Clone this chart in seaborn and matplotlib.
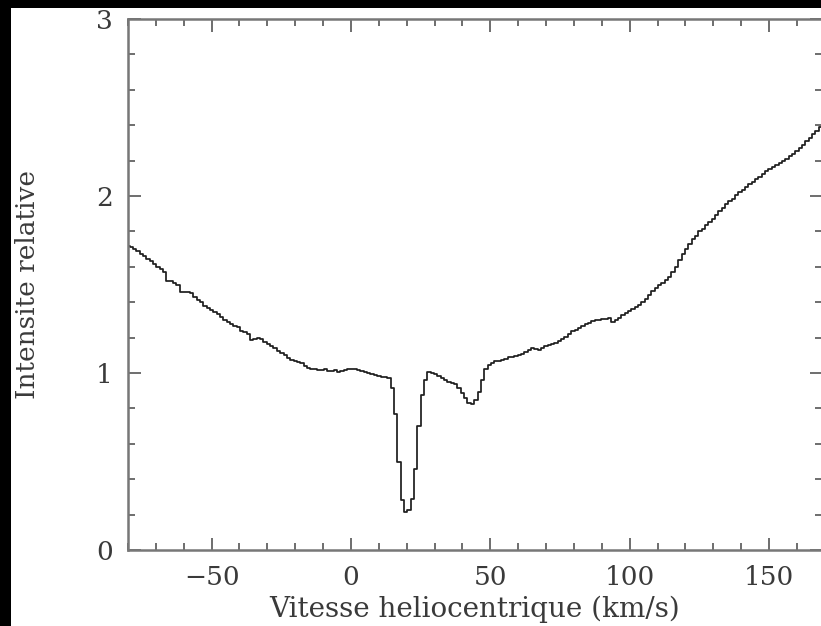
import numpy as np
import pandas as pd
import matplotlib
matplotlib.use("Agg")
import matplotlib.pyplot as plt
import seaborn as sns
from matplotlib.patches import Rectangle
from matplotlib.ticker import MultipleLocator

# Spectrum: channel grid (km/s) and relative intensity per channel
v_start = -80.0
channel_width = 1.2
intensity = [
    1.72, 1.71, 1.70, 1.69, 1.675, 1.66, 1.645, 1.63, 1.615, 1.60,
    1.585, 1.57, 1.52, 1.52, 1.51, 1.50, 1.46, 1.46, 1.455, 1.45,
    1.43, 1.415, 1.40, 1.38, 1.365, 1.355, 1.345, 1.335, 1.315, 1.30,
    1.29, 1.278, 1.268, 1.258, 1.24, 1.232, 1.22, 1.188, 1.19, 1.20,
    1.19, 1.175, 1.162, 1.15, 1.14, 1.125, 1.112, 1.10, 1.085, 1.073,
    1.068, 1.06, 1.055, 1.04, 1.028, 1.025, 1.02, 1.017, 1.015, 1.02,
    1.013, 1.01, 1.015, 1.008, 1.012, 1.018, 1.021, 1.02, 1.022, 1.017,
    1.012, 1.005, 1.0, 0.995, 0.99, 0.985, 0.979, 0.975, 0.97, 0.913,
    0.77, 0.50, 0.28, 0.215, 0.225, 0.29, 0.46, 0.70, 0.875, 0.96,
    1.008, 1.0, 0.995, 0.985, 0.972, 0.96, 0.951, 0.945, 0.94, 0.913,
    0.885, 0.857, 0.832, 0.825, 0.847, 0.89, 0.96, 1.02, 1.045, 1.058,
    1.065, 1.07, 1.075, 1.08, 1.088, 1.092, 1.098, 1.102, 1.11, 1.12,
    1.13, 1.14, 1.135, 1.13, 1.142, 1.15, 1.158, 1.165, 1.172, 1.18,
    1.19, 1.205, 1.22, 1.235, 1.245, 1.255, 1.265, 1.275, 1.285, 1.292,
    1.298, 1.302, 1.304, 1.306, 1.309, 1.29, 1.30, 1.312, 1.33, 1.34,
    1.35, 1.36, 1.372, 1.384, 1.40, 1.42, 1.44, 1.465, 1.48, 1.495,
    1.51, 1.525, 1.545, 1.57, 1.60, 1.64, 1.675, 1.70, 1.73, 1.755,
    1.775, 1.80, 1.815, 1.835, 1.855, 1.87, 1.89, 1.915, 1.935, 1.955,
    1.97, 1.985, 2.005, 2.02, 2.035, 2.05, 2.065, 2.08, 2.095, 2.11,
    2.125, 2.14, 2.155, 2.165, 2.175, 2.185, 2.195, 2.21, 2.225, 2.24,
    2.255, 2.27, 2.29, 2.31, 2.33, 2.35, 2.37, 2.39, 2.41,
]
velocity = v_start + channel_width * np.arange(len(intensity))

x_ticks = [-50, 0, 50, 100, 150]
y_ticks = [0, 1, 2, 3]
x_label = "Vitesse heliocentrique (km/s)"
y_label = "Intensite relative"

df = pd.DataFrame({"v": velocity, "I": intensity})

sns.set_style("ticks")
plt.rcParams["font.family"] = ["DejaVu Serif"]
plt.rcParams["mathtext.fontset"] = "dejavuserif"

text_color = "#3a3a3a"

fig = plt.figure(figsize=(8.21, 6.26), dpi=100, facecolor="white")
ax = fig.add_axes([128 / 821, 76 / 626, 694 / 821, 531 / 626])

sns.lineplot(data=df, x="v", y="I", ax=ax, drawstyle="steps-mid",
             color="#1e1e1e", linewidth=1.25, estimator=None, sort=False)

ax.set_xlim(-80, 169)
ax.set_ylim(0, 3)
ax.set_xticks(x_ticks)
ax.set_yticks(y_ticks)
ax.xaxis.set_minor_locator(MultipleLocator(10))
ax.yaxis.set_minor_locator(MultipleLocator(0.2))
ax.tick_params(which="both", direction="in", top=True, right=True,
               colors="#555555", labelcolor=text_color, width=1.2)
ax.tick_params(which="major", length=9, labelsize=19, pad=11)
ax.tick_params(which="minor", length=5)
for s in ax.spines.values():
    s.set_color("#777777")
    s.set_linewidth(1.8)

ax.set_xlabel(x_label, fontsize=20, color=text_color, labelpad=4)
ax.set_ylabel(y_label, fontsize=19, color=text_color, labelpad=40)

# dark frame along the top and left edges
fig.add_artist(Rectangle((0, 1 - 8 / 626), 1, 8 / 626, transform=fig.transFigure,
                         facecolor="black", edgecolor="none", zorder=10))
fig.add_artist(Rectangle((0, 0), 11 / 821, 1, transform=fig.transFigure,
                         facecolor="black", edgecolor="none", zorder=10))

fig.savefig("out.png", dpi=100, facecolor="white")
